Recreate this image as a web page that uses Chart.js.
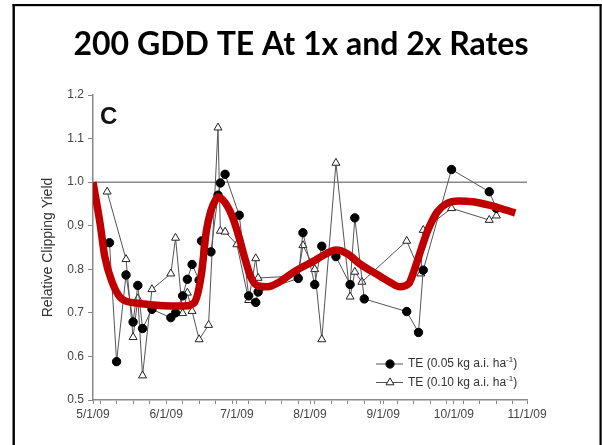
<!DOCTYPE html>
<html>
<head>
<meta charset="utf-8">
<script src="https://cdn.jsdelivr.net/npm/chart.js@4.4.1/dist/chart.umd.min.js"></script>
<style>
  html, body { margin: 0; padding: 0; background: #fff; }
  #wrap { width: 602px; height: 445px; }
</style>
</head>
<body>
<div id="wrap"><canvas id="chart" width="602" height="445"></canvas></div>
<script>
// month ticks on the date axis
const tickDates = ['5/1', '6/1', '7/1', '8/1', '9/1', '10/1', '11/1'];
const tickLabels = ['5/1/09', '6/1/09', '7/1/09', '8/1/09', '9/1/09', '10/1/09', '11/1/09'];

// TE 0.05 kg a.i./ha (filled circles)
const lowDates = ['5/8', '5/11', '5/15', '5/18', '5/20', '5/22', '5/26', '6/3', '6/5', '6/8',
  '6/10', '6/12', '6/15', '6/16', '6/20', '6/23', '6/24', '6/26', '7/2', '7/6', '7/9', '7/10',
  '7/27', '7/29', '8/3', '8/6', '8/12', '8/18', '8/20', '8/24', '9/11', '9/16', '9/18', '9/30',
  '10/16', '10/19'];
const lowValues = [0.861, 0.588, 0.787, 0.679, 0.763, 0.664, 0.708, 0.689, 0.700, 0.739,
  0.777, 0.811, 0.775, 0.865, 0.840, 0.970, 0.998, 1.018, 0.924, 0.739, 0.724, 0.748,
  0.779, 0.884, 0.765, 0.853, 0.829, 0.765, 0.918, 0.732, 0.703, 0.655, 0.798, 1.029,
  0.978, 0.940];

// TE 0.10 kg a.i./ha (open triangles)
const highDates = ['5/7', '5/15', '5/18', '5/20', '5/22', '5/26', '6/3', '6/5', '6/8', '6/10',
  '6/12', '6/15', '6/19', '6/23', '6/24', '6/26', '7/1', '7/6', '7/9', '7/10', '7/27', '7/29',
  '8/3', '8/6', '8/12', '8/18', '8/20', '8/23', '9/11', '9/17', '9/18', '9/30', '10/16', '10/19'];
const highValues = [0.978, 0.823, 0.644, 0.733, 0.556, 0.754, 0.790, 0.872, 0.699, 0.746,
  0.704, 0.639, 0.672, 1.125, 0.888, 0.886, 0.857, 0.729, 0.825, 0.780, 0.785, 0.855,
  0.800, 0.639, 1.044, 0.737, 0.794, 0.771, 0.865, 0.790, 0.890, 0.940, 0.913, 0.923];

// red smoothed trend
const fitDates = ['5/1', '5/4', '5/6', '5/9', '5/13', '5/20', '5/27', '6/3', '6/9', '6/13',
  '6/16', '6/18', '6/20', '6/22', '6/23', '6/26', '6/29', '7/2', '7/4', '7/7', '7/10', '7/14',
  '7/19', '7/26', '8/2', '8/8', '8/12', '8/17', '8/22', '8/31', '9/4', '9/8', '9/12', '9/14',
  '9/17', '9/20', '9/24', '9/28', '10/3', '10/9', '10/16', '10/23', '10/27'];
const fitValues = [1.000, 0.905, 0.829, 0.772, 0.733, 0.722, 0.718, 0.716, 0.716, 0.724,
  0.790, 0.886, 0.935, 0.960, 0.966, 0.953, 0.922, 0.872, 0.832, 0.781, 0.762, 0.760,
  0.771, 0.797, 0.817, 0.836, 0.844, 0.835, 0.813, 0.783, 0.770, 0.760, 0.768, 0.795,
  0.844, 0.890, 0.932, 0.951, 0.957, 0.955, 0.947, 0.936, 0.929];

// reference line at 1.0
const refDates = ['5/1', '11/1'];
const refValues = [1.0, 1.0];

function dayOf(md) {
  const [m, d] = md.split('/').map(Number);
  return (Date.UTC(2009, m - 1, d) - Date.UTC(2009, 4, 1)) / 86400000;
}
const pts = (dates, values) => dates.map((d, i) => ({ x: dayOf(d), y: values[i] }));

const monthDays = tickDates.map(dayOf);
const weekDays = [];
for (let d = dayOf('5/4'); d < monthDays[monthDays.length - 1]; d += 7) weekDays.push(d);
const allTicks = [...new Set([...monthDays, ...weekDays])].sort((a, b) => a - b);

const axisFont = { family: 'Liberation Sans', size: 12 };

const framePlugin = {
  id: 'frame',
  beforeDraw(chart) {
    const c = chart.ctx;
    c.save();
    c.fillStyle = '#fff';
    c.fillRect(0, 0, chart.width, chart.height);
    c.fillStyle = '#000';
    c.fillRect(12.5, 4, 589, 2.2);
    c.fillRect(12.5, 4, 2.4, chart.height);
    c.fillRect(599.5, 4, 2.2, chart.height);
    c.restore();
  }
};

const notesPlugin = {
  id: 'notes',
  afterDraw(chart) {
    const c = chart.ctx;
    const a = chart.chartArea;
    c.save();
    c.fillStyle = '#111';
    c.font = 'bold 24px "Liberation Sans"';
    c.textBaseline = 'alphabetic';
    c.fillText('C', a.left + 7, a.top + 29);

    // legend
    const rows = [
      { text: 'TE (0.05 kg a.i. ha', style: 'circle', fill: '#000', r: 4.2 },
      { text: 'TE (0.10 kg a.i. ha', style: 'triangle', fill: '#fff', r: 4.6 }
    ];
    rows.forEach((row, i) => {
      const y = 364 + i * 18.5;
      c.strokeStyle = '#555';
      c.lineWidth = 1;
      c.beginPath();
      c.moveTo(376, y);
      c.lineTo(403, y);
      c.stroke();
      c.fillStyle = row.fill;
      c.strokeStyle = '#222';
      Chart.helpers.drawPoint(c, { pointStyle: row.style, radius: row.r, borderWidth: 1, rotation: 0 }, 390, y);
      c.fillStyle = '#333';
      c.font = '12px "Liberation Sans"';
      c.textBaseline = 'middle';
      let x = 408;
      c.fillText(row.text, x, y);
      x += c.measureText(row.text).width;
      c.font = '8px "Liberation Sans"';
      c.fillText('-1', x, y - 4);
      x += c.measureText('-1').width;
      c.font = '12px "Liberation Sans"';
      c.fillText(')', x, y);
    });
    c.restore();
  }
};

new Chart(document.getElementById('chart'), {
  type: 'line',
  data: {
    datasets: [
      {
        label: 'trend',
        data: pts(fitDates, fitValues),
        borderColor: '#c00000',
        borderWidth: 7.5,
        pointRadius: 0,
        cubicInterpolationMode: 'monotone',
        order: 0
      },
      {
        label: 'TE (0.05 kg a.i. ha-1)',
        data: pts(lowDates, lowValues),
        borderColor: '#555',
        borderWidth: 1,
        pointStyle: 'circle',
        pointRadius: 4.2,
        pointBackgroundColor: '#000',
        pointBorderColor: '#000',
        order: 1
      },
      {
        label: 'TE (0.10 kg a.i. ha-1)',
        data: pts(highDates, highValues),
        borderColor: '#555',
        borderWidth: 1,
        pointStyle: 'triangle',
        pointRadius: 4.6,
        pointBackgroundColor: '#fff',
        pointBorderColor: '#222',
        pointBorderWidth: 1,
        order: 2
      },
      {
        label: 'reference',
        data: pts(refDates, refValues),
        borderColor: '#8a8a8a',
        borderWidth: 1.5,
        pointRadius: 0,
        order: 3
      }
    ]
  },
  options: {
    responsive: false,
    animation: false,
    layout: { padding: 0 },
    plugins: {
      legend: { display: false },
      tooltip: { enabled: false },
      title: {
        display: true,
        text: '200 GDD TE At 1x and 2x Rates',
        color: '#000',
        font: { family: 'Lato', size: 32, weight: 'bold' },
        padding: { top: 25, bottom: 31.6 }
      }
    },
    scales: {
      x: {
        type: 'linear',
        min: 0,
        max: 184,
        afterBuildTicks: s => { s.ticks = allTicks.map(v => ({ value: v })); },
        afterFit: s => { s.height = 45; },
        grid: { drawOnChartArea: false, drawTicks: true, tickLength: 4, color: '#888' },
        border: { color: '#888', width: 1.5 },
        ticks: {
          autoSkip: false,
          maxRotation: 0,
          padding: 3,
          color: '#444',
          font: axisFont,
          callback: v => {
            const i = monthDays.indexOf(v);
            return i >= 0 ? tickLabels[i] : '';
          }
        }
      },
      y: {
        min: 0.5,
        max: 1.2,
        afterFit: s => { s.width = 93; },
        grid: { drawOnChartArea: false, drawTicks: true, tickLength: 5, color: '#888' },
        border: { color: '#888', width: 1.5 },
        ticks: {
          stepSize: 0.1,
          padding: 4,
          color: '#444',
          font: axisFont,
          callback: v => v.toFixed(1)
        },
        title: {
          display: true,
          text: 'Relative Clipping Yield',
          color: '#333',
          font: { family: 'Liberation Sans', size: 14 },
          padding: { top: 40, bottom: 0 }
        }
      },
      // empty right-hand gutter, keeps the title centred on the whole slide
      gutter: {
        type: 'linear',
        position: 'right',
        afterFit: s => { s.width = 75; },
        grid: { display: false },
        border: { display: false },
        ticks: { display: false }
      }
    }
  },
  plugins: [framePlugin, notesPlugin]
});
</script>
</body>
</html>
